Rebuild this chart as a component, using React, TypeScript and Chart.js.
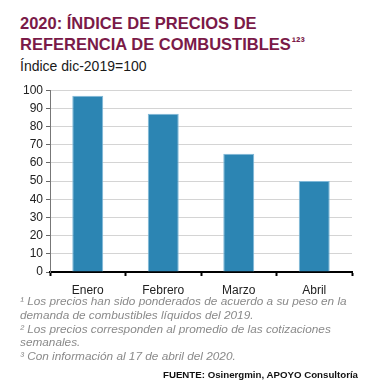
import React, { useEffect, useRef } from "react";
import { Chart, registerables } from "chart.js";

Chart.register(...registerables);

const categories = ["Enero", "Febrero", "Marzo", "Abril"];
const indexValues = [97, 87, 65, 50];
const yTicks = [0, 10, 20, 30, 40, 50, 60, 70, 80, 90, 100];

const titleLines = ["2020: ÍNDICE DE PRECIOS DE", "REFERENCIA DE COMBUSTIBLES"];
const titleSup = "¹²³";
const subtitle = "Índice dic-2019=100";
const footnotes = [
  "¹ Los precios han sido ponderados de acuerdo a su peso en la",
  "demanda de combustibles líquidos del 2019.",
  "² Los precios corresponden al promedio de las cotizaciones",
  "semanales.",
  "³ Con información al 17 de abril del 2020.",
];
const source = "FUENTE: Osinergmin, APOYO Consultoría";

const FONT = "'Liberation Sans', Arial, sans-serif";

export default function App() {
  const ref = useRef<HTMLCanvasElement | null>(null);

  useEffect(() => {
    if (!ref.current) return;
    const chart = new Chart(ref.current, {
      type: "bar",
      data: {
        labels: categories,
        datasets: [
          {
            data: indexValues,
            backgroundColor: "#2c85b3",
            borderColor: "#7fb8d8",
            borderWidth: 1,
            barPercentage: 0.41,
            categoryPercentage: 1,
          },
        ],
      },
      options: {
        animation: false,
        responsive: false,
        maintainAspectRatio: false,
        layout: { padding: { top: 8, right: 19, left: 0, bottom: 0 } },
        plugins: {
          legend: { display: false },
          tooltip: { enabled: false },
          title: { display: false },
        },
        scales: {
          x: {
            grid: {
              offset: true,
              drawOnChartArea: false,
              drawTicks: true,
              tickLength: 4,
              tickColor: "#000",
              tickWidth: 2,
            },
            border: { display: true, color: "#000", width: 2 },
            ticks: {
              color: "#222",
              font: { family: FONT, size: 12 },
              padding: 7,
            },
            afterFit: (s: any) => {
              s.height = 26;
            },
          },
          y: {
            min: 0,
            max: 100,
            afterBuildTicks: (s: any) => {
              s.ticks = yTicks.map((v) => ({ value: v }));
            },
            grid: {
              color: "#d4d4d4",
              lineWidth: 1,
              drawTicks: true,
              tickLength: 4,
              tickColor: "#666",
            },
            border: { display: true, color: "#777", width: 1 },
            ticks: {
              color: "#222",
              font: { family: FONT, size: 12 },
              padding: 3,
            },
            afterFit: (s: any) => {
              s.width = 50;
            },
          },
        },
      },
    });
    return () => chart.destroy();
  }, []);

  const abs = (o: React.CSSProperties): React.CSSProperties => ({
    position: "absolute",
    whiteSpace: "nowrap",
    fontFamily: FONT,
    ...o,
  });

  return (
    <div
      style={{
        position: "fixed",
        left: 0,
        top: 0,
        width: 371,
        height: 389,
        background: "#fff",
        overflow: "hidden",
      }}
    >
      <div
        style={abs({
          left: 20,
          top: 13,
          fontSize: 16.5,
          fontWeight: "bold",
          lineHeight: "21px",
          color: "#7a1a48",
        })}
      >
        <div>{titleLines[0]}</div>
        <div>
          {titleLines[1]}
          <span style={{ fontSize: 13, lineHeight: "10px", verticalAlign: "top", position: "relative", top: 3, marginLeft: 1 }}>{titleSup}</span>
        </div>
      </div>
      <div style={abs({ left: 20, top: 58, fontSize: 14, lineHeight: "16px", color: "#1a1a1a" })}>
        {subtitle}
      </div>
      <canvas
        ref={ref}
        width={371}
        height={218}
        style={{ position: "absolute", left: 0, top: 80, width: 371, height: 218 }}
      />
      <div
        style={abs({
          left: 20,
          top: 295,
          fontSize: 11.8,
          fontStyle: "italic",
          lineHeight: "13.8px",
          color: "#8a8a8a",
        })}
      >
        {footnotes.map((f, i) => (
          <div key={i}>{f}</div>
        ))}
      </div>
      <div
        style={abs({
          right: 13,
          top: 368,
          fontSize: 9.7,
          fontWeight: "bold",
          lineHeight: "13px",
          color: "#111",
        })}
      >
        {source}
      </div>
    </div>
  );
}
